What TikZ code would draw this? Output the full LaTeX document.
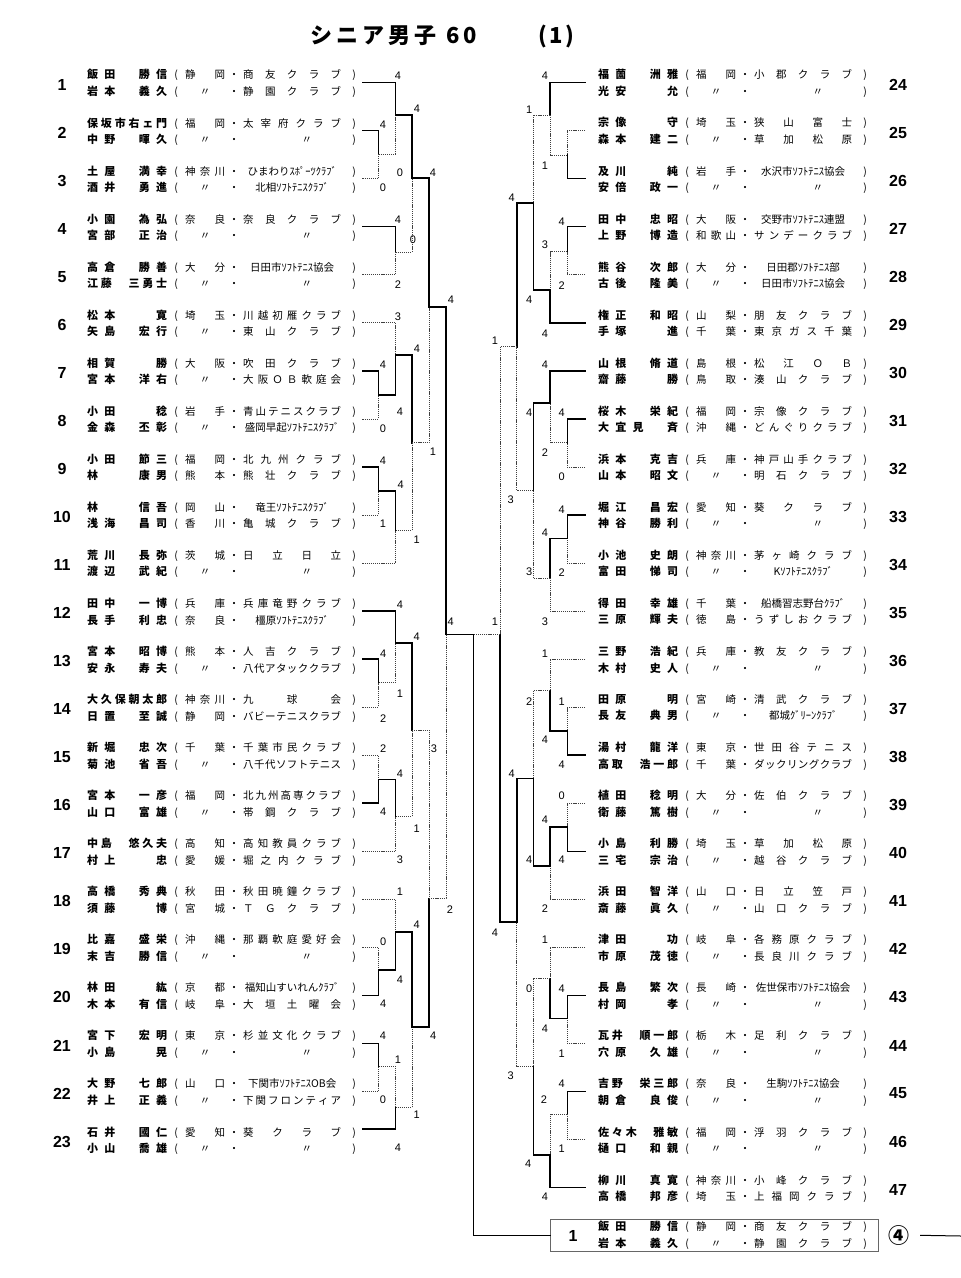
\documentclass[tikz,border=0pt]{standalone}
\usepackage{fontspec}
\newfontfamily\jp{Noto Sans CJK JP}
\newfontfamily\ar{Liberation Sans}
\usetikzlibrary{positioning}

\newcommand\spr[1]{\sprA#1\relax}
\def\sprA#1{\ifx#1\relax\else#1\expandafter\sprB\fi}
\def\sprB#1{\ifx#1\relax\else\hfil#1\expandafter\sprB\fi}
\newcommand\nmfld[1]{\hbox to 80pt{\bfseries\fontsize{11}{16.5}\selectfont\spr{#1}}}
\newcommand\ent[3]{\nmfld{#1}\hbox to 18pt{\hss(\hss}\hbox to 40pt{\spr{#2}}\hbox to 18pt{\hss・\hss}\hbox to 98pt{\spr{#3}}\hbox to 26pt{\hss)\hss}}
\newcommand\entn[3]{\nmfld{#1}\hbox to 18pt{\hss(\hss}\hbox to 40pt{\spr{#2}}\hbox to 18pt{\hss・\hss}\hbox to 98pt{\hss#3\hss}\hbox to 26pt{\hss)\hss}}
\newcommand\bmatch[6]{%
  \coordinate (#1) at (#2,#5);
  \if#6u
    \draw[win] (#3) -| (#1); \draw[lose] (#4) -| (#1);
  \else
    \draw[lose] (#3) -| (#1); \draw[win] (#4) -| (#1);
  \fi}

\begin{document}
\begin{tikzpicture}[x=1pt, y=-1pt,
  win/.style={line width=1.6pt, line cap=rect},
  lose/.style={draw=black!75, line width=0.6pt, dash pattern=on 1.2pt off 0.9pt},
  ent/.style={anchor=west, inner sep=0pt, align=left, font=\jp\fontsize{10.5}{16.5}\selectfont},
  num/.style={inner sep=0pt, font=\ar\bfseries\fontsize{16}{16}\selectfont},
  score/.style={inner sep=0pt, font=\ar\fontsize{11}{11}\selectfont},
  title/.style={anchor=west, inner sep=0pt, font=\jp\bfseries\fontsize{22}{26}\selectfont},
  champ/.style={draw=black!60, line width=0.8pt, minimum width=327.6pt, minimum height=32.5pt, inner sep=0pt}]
\fill[white] (0,0) rectangle (961,1278);
\useasboundingbox (0,0) rectangle (961,1278);

\node[title] (title) at (310,36) {\hbox to 126pt{\spr{シニア男子}}\hspace{10pt}6\hspace{4pt}0\hspace{62pt}(\kern2pt1\kern2pt)};

\node[ent] (e1) at (87,83.5) {\ent{飯田　勝信}{静岡}{商友クラブ}\\\ent{岩本　義久}{　〃　}{静園クラブ}};
\node[ent] (e2) at (87,131.55) {\ent{保坂市右ェ門}{福岡}{太宰府クラブ}\\\ent{中野　暉久}{　〃　}{　　〃　}};
\node[ent] (e3) at (87,179.6) {\entn{土屋　満幸}{神奈川}{ひまわりｽﾎﾟｰﾂｸﾗﾌﾞ}\\\entn{酒井　勇進}{　〃　}{北相ｿﾌﾄﾃﾆｽｸﾗﾌﾞ}};
\node[ent] (e4) at (87,227.65) {\ent{小園　為弘}{奈良}{奈良クラブ}\\\ent{宮部　正治}{　〃　}{　　〃　}};
\node[ent] (e5) at (87,275.7) {\entn{高倉　勝善}{大分}{日田市ｿﾌﾄﾃﾆｽ協会}\\\ent{江藤　三勇士}{　〃　}{　　〃　}};
\node[ent] (e6) at (87,323.75) {\ent{松本　　寛}{埼玉}{川越初雁クラブ}\\\ent{矢島　宏行}{　〃　}{東山クラブ}};
\node[ent] (e7) at (87,371.8) {\ent{相賀　　勝}{大阪}{吹田クラブ}\\\ent{宮本　洋右}{　〃　}{大阪ＯＢ軟庭会}};
\node[ent] (e8) at (87,419.85) {\ent{小田　　稔}{岩手}{青山テニスクラブ}\\\entn{金森　丕彰}{　〃　}{盛岡早起ｿﾌﾄﾃﾆｽｸﾗﾌﾞ}};
\node[ent] (e9) at (87,467.9) {\ent{小田　節三}{福岡}{北九州クラブ}\\\ent{林　　康男}{熊本}{熊壮クラブ}};
\node[ent] (e10) at (87,515.95) {\entn{林　　信吾}{岡山}{竜王ｿﾌﾄﾃﾆｽｸﾗﾌﾞ}\\\ent{浅海　昌司}{香川}{亀城クラブ}};
\node[ent] (e11) at (87,564.0) {\ent{荒川　長弥}{茨城}{日立日立}\\\ent{渡辺　武紀}{　〃　}{　　〃　}};
\node[ent] (e12) at (87,612.05) {\ent{田中　一博}{兵庫}{兵庫竜野クラブ}\\\entn{長手　利忠}{奈良}{橿原ｿﾌﾄﾃﾆｽｸﾗﾌﾞ}};
\node[ent] (e13) at (87,660.1) {\ent{宮本　昭博}{熊本}{人吉クラブ}\\\ent{安永　寿夫}{　〃　}{八代アタッククラブ}};
\node[ent] (e14) at (87,708.15) {\ent{大久保朝太郎}{神奈川}{九球会}\\\ent{日置　至誠}{静岡}{バビーテニスクラブ}};
\node[ent] (e15) at (87,756.2) {\ent{新堀　忠次}{千葉}{千葉市民クラブ}\\\ent{菊池　省吾}{　〃　}{八千代ソフトテニス}};
\node[ent] (e16) at (87,804.25) {\ent{宮本　一彦}{福岡}{北九州高専クラブ}\\\ent{山口　富雄}{　〃　}{帯鋼クラブ}};
\node[ent] (e17) at (87,852.3) {\ent{中島　悠久夫}{高知}{高知教員クラブ}\\\ent{村上　　忠}{愛媛}{堀之内クラブ}};
\node[ent] (e18) at (87,900.35) {\ent{高橋　秀典}{秋田}{秋田暁鐘クラブ}\\\ent{須藤　　博}{宮城}{ＴＧクラブ}};
\node[ent] (e19) at (87,948.4) {\ent{比嘉　盛栄}{沖縄}{那覇軟庭愛好会}\\\ent{末吉　勝信}{　〃　}{　　〃　}};
\node[ent] (e20) at (87,996.45) {\entn{林田　　紘}{京都}{福知山すいれんｸﾗﾌﾞ}\\\ent{木本　有信}{岐阜}{大垣土曜会}};
\node[ent] (e21) at (87,1044.5) {\ent{宮下　宏明}{東京}{杉並文化クラブ}\\\ent{小島　　晃}{　〃　}{　　〃　}};
\node[ent] (e22) at (87,1092.55) {\entn{大野　七郎}{山口}{下関市ｿﾌﾄﾃﾆｽOB会}\\\ent{井上　正義}{　〃　}{下関フロンティア}};
\node[ent] (e23) at (87,1140.6) {\ent{石井　國仁}{愛知}{葵クラブ}\\\ent{小山　喬雄}{　〃　}{　　〃　}};

\node[ent] (e24) at (598,83.5) {\ent{福薗　洲雅}{福岡}{小郡クラブ}\\\ent{光安　　允}{　〃　}{　　〃　}};
\node[ent] (e25) at (598,131.55) {\ent{宗像　　守}{埼玉}{狭山富士}\\\ent{森本　建二}{　〃　}{草加松原}};
\node[ent] (e26) at (598,179.6) {\entn{及川　　純}{岩手}{水沢市ｿﾌﾄﾃﾆｽ協会}\\\ent{安倍　政一}{　〃　}{　　〃　}};
\node[ent] (e27) at (598,227.65) {\entn{田中　忠昭}{大阪}{交野市ｿﾌﾄﾃﾆｽ連盟}\\\ent{上野　博造}{和歌山}{サンデークラブ}};
\node[ent] (e28) at (598,275.7) {\entn{熊谷　次郎}{大分}{日田郡ｿﾌﾄﾃﾆｽ部}\\\entn{古後　隆美}{　〃　}{日田市ｿﾌﾄﾃﾆｽ協会}};
\node[ent] (e29) at (598,323.75) {\ent{権正　和昭}{山梨}{朋友クラブ}\\\ent{手塚　　進}{千葉}{東京ガス千葉}};
\node[ent] (e30) at (598,371.8) {\ent{山根　脩道}{島根}{松江ＯＢ}\\\ent{齋藤　　勝}{鳥取}{湊山クラブ}};
\node[ent] (e31) at (598,419.85) {\ent{桜木　栄紀}{福岡}{宗像クラブ}\\\ent{大宜見　斉}{沖縄}{どんぐりクラブ}};
\node[ent] (e32) at (598,467.9) {\ent{浜本　克吉}{兵庫}{神戸山手クラブ}\\\ent{山本　昭文}{　〃　}{明石クラブ}};
\node[ent] (e33) at (598,515.95) {\ent{堀江　昌宏}{愛知}{葵クラブ}\\\ent{神谷　勝利}{　〃　}{　　〃　}};
\node[ent] (e34) at (598,564.0) {\ent{小池　史朗}{神奈川}{茅ヶ崎クラブ}\\\entn{富田　悌司}{　〃　}{Kｿﾌﾄﾃﾆｽｸﾗﾌﾞ}};
\node[ent] (e35) at (598,612.05) {\entn{得田　幸雄}{千葉}{船橋習志野台ｸﾗﾌﾞ}\\\ent{三原　輝夫}{徳島}{うずしおクラブ}};
\node[ent] (e36) at (598,660.1) {\ent{三野　浩紀}{兵庫}{教友クラブ}\\\ent{木村　史人}{　〃　}{　　〃　}};
\node[ent] (e37) at (598,708.15) {\ent{田原　　明}{宮崎}{清武クラブ}\\\entn{長友　典男}{　〃　}{都城ｸﾞﾘｰﾝｸﾗﾌﾞ}};
\node[ent] (e38) at (598,756.2) {\ent{湯村　龍洋}{東京}{世田谷テニス}\\\ent{高取　浩一郎}{千葉}{ダックリングクラブ}};
\node[ent] (e39) at (598,804.25) {\ent{植田　稔明}{大分}{佐伯クラブ}\\\ent{衛藤　篤樹}{　〃　}{　　〃　}};
\node[ent] (e40) at (598,852.3) {\ent{小島　利勝}{埼玉}{草加松原}\\\ent{三宅　宗治}{　〃　}{越谷クラブ}};
\node[ent] (e41) at (598,900.35) {\ent{浜田　智洋}{山口}{日立笠戸}\\\ent{斎藤　眞久}{　〃　}{山口クラブ}};
\node[ent] (e42) at (598,948.4) {\ent{津田　　功}{岐阜}{各務原クラブ}\\\ent{市原　茂徳}{　〃　}{長良川クラブ}};
\node[ent] (e43) at (598,996.45) {\entn{長島　繁次}{長崎}{佐世保市ｿﾌﾄﾃﾆｽ協会}\\\ent{村岡　　孝}{　〃　}{　　〃　}};
\node[ent] (e44) at (598,1044.5) {\ent{瓦井　順一郎}{栃木}{足利クラブ}\\\ent{穴原　久雄}{　〃　}{　　〃　}};
\node[ent] (e45) at (598,1092.55) {\entn{吉野　栄三郎}{奈良}{生駒ｿﾌﾄﾃﾆｽ協会}\\\ent{朝倉　良俊}{　〃　}{　　〃　}};
\node[ent] (e46) at (598,1140.6) {\ent{佐々木　雅敏}{福岡}{浮羽クラブ}\\\ent{樋口　和親}{　〃　}{　　〃　}};
\node[ent] (e47) at (598,1188.65) {\ent{柳川　真寛}{神奈川}{小峰クラブ}\\\ent{高橋　邦彦}{埼玉}{上福岡クラブ}};

\foreach \k [evaluate=\k as \yk using 83.5+48.05*(\k-1)+1] in {1,...,23}
  \node[num] (n\k) at (62,\yk) {\k};
\foreach \k [evaluate=\k as \yk using 83.5+48.05*(\k-24)+1] in {24,...,47}
  \node[num] (n\k) at (898,\yk) {\k};

\foreach \k in {1,...,22}
  \coordinate (a\k) at ([shift={(-5pt,1pt)}]e\k.east);
\coordinate (a23) at ([shift={(-5pt,11.5pt)}]e23.east);
\foreach \k in {24,...,47}
  \coordinate (a\k) at ([shift={(-13pt,1pt)}]e\k.west);

\bmatch{mA}{378.5}{a2}{a3}{154}{u}
\bmatch{mB}{395.5}{a1}{mA}{115}{u}
\bmatch{mC}{395.5}{a4}{a5}{252}{u}
\bmatch{mD}{412}{mB}{mC}{178}{u}
\bmatch{mE}{378.5}{a7}{a8}{395}{u}
\bmatch{mF}{395.5}{a6}{mE}{355}{d}
\bmatch{mG}{378.5}{a9}{a10}{490.7}{u}
\bmatch{mH}{395.5}{mG}{a11}{530.7}{u}
\bmatch{mI}{412}{mF}{mH}{442.7}{u}
\bmatch{mJ}{429}{mD}{mI}{306.7}{u}
\bmatch{mK}{378.5}{a13}{a14}{682.7}{u}
\bmatch{mL}{395.5}{a12}{mK}{642.7}{u}
\bmatch{mM}{378.5}{a15}{a16}{779.3}{d}
\bmatch{mN}{395.5}{mM}{a17}{816.7}{u}
\bmatch{mO}{412}{mL}{mN}{730}{u}
\bmatch{mP}{378.5}{a19}{a20}{970}{d}
\bmatch{mQ}{395.5}{a18}{mP}{932}{d}
\bmatch{mR}{378.5}{a21}{a22}{1066}{u}
\bmatch{mS}{395.5}{mR}{a23}{1107.7}{d}
\bmatch{mT}{412}{mQ}{mS}{1026.7}{u}
\bmatch{mU}{429}{mO}{mT}{898.3}{d}
\bmatch{mV}{446}{mJ}{mU}{634.3}{u}

\bmatch{nA}{567.3}{a25}{a26}{155}{d}
\bmatch{nB}{550}{a24}{nA}{115}{u}
\bmatch{nC}{567.3}{a27}{a28}{251.7}{u}
\bmatch{nD}{550}{nC}{a29}{290}{d}
\bmatch{nE}{533.3}{nB}{nD}{202.7}{d}
\bmatch{nF}{567.3}{a31}{a32}{442.7}{u}
\bmatch{nG}{550}{a30}{nF}{402.7}{u}
\bmatch{nH}{567.3}{a33}{a34}{538.3}{u}
\bmatch{nI}{550}{nH}{a35}{578.3}{u}
\bmatch{nJ}{533.3}{nG}{nI}{490}{u}
\bmatch{nK}{516.7}{nE}{nJ}{346.7}{u}
\bmatch{nL}{567.3}{a37}{a38}{730.7}{d}
\bmatch{nM}{550}{a36}{nL}{690.7}{d}
\bmatch{nN}{567.3}{a39}{a40}{826.7}{d}
\bmatch{nO}{550}{nN}{a41}{866}{u}
\bmatch{nP}{533.3}{nM}{nO}{778.3}{d}
\bmatch{nQ}{567.3}{a43}{a44}{1018.3}{u}
\bmatch{nR}{550}{a42}{nQ}{978.3}{d}
\bmatch{nS}{567.3}{a45}{a46}{1114}{u}
\bmatch{nT}{550}{nS}{a47}{1155}{d}
\bmatch{nU}{533.3}{nR}{nT}{1066.7}{d}
\bmatch{nV}{516.7}{nP}{nU}{921.7}{u}
\bmatch{nW}{500}{nK}{nV}{634.3}{d}

\node[champ] (champ) at (714.5,1235.3) {};
\node[num] (cn) at (573,1236) {1};
\node[ent] (ce) at (598,1235.3) {\ent{飯田　勝信}{静岡}{商友クラブ}\\\ent{岩本　義久}{　〃　}{静園クラブ}};
\node[inner sep=0pt, font=\jp\bfseries\fontsize{21}{21}\selectfont, right=10pt of champ] (rank) {④};
\coordinate (edge) at (961,1236);

\coordinate (fin) at (473.3,634.3);
\draw[win] (mV) -- (fin);
\draw[lose] (nW) -- (fin);
\draw[win] (fin) |- (champ.west);
\draw[line width=1pt] ([xshift=10pt]rank.east) -- (edge);

\foreach \x/\y/\v [count=\i] in {
  383/125/4, 383/188/0, 398/76/4, 400/173/0, 398/220/4, 398/285/2,
  417/109/4, 413/240/0, 383/365/4, 383/429/0, 398/317/3, 400/412/4,
  383/461/4, 383/524/1, 400.7/485/4, 417/349/4, 416.7/540/1,
  433/173/4, 433/452/1, 383.3/653.3/4, 383.3/718.3/2, 400/605/4, 400/693.3/1,
  383.3/748.3/2, 383.3/811.7/4, 400/773.3/4, 400/860/3,
  416.7/636.7/4, 416.7/828.3/1, 383.3/941.7/0, 383.3/1004/4,
  400/891.7/1, 400/980/4, 383/1036/4, 383/1100/0, 398/1060/1, 398/1148/4,
  416.7/925/4, 416.7/1115/1, 434/748.3/3, 433.3/1036/4, 451/300/4, 450/910/2,
  450.7/621.7/4, 495/621.7/1,
  545/76/4, 545/166/1, 561.7/221.7/4, 561.7/286/2, 545/245/3, 545/333.3/4,
  529.3/109.3/1, 529.3/300/4, 561.7/412.7/4, 561.7/476.7/0, 545/365/4, 545/452.7/2,
  561.7/509.3/4, 561.7/572.7/2, 545/532.7/4, 545/621.7/3, 529.3/412.7/4, 529.3/571.7/3,
  511.7/197.3/4, 510.7/500/3, 561.7/701.7/1, 561.7/765/4, 545/653.3/1, 545/740/4,
  561.7/796/0, 561.7/860/4, 545/820/4, 545/908.3/2, 529.3/701.7/2, 529.3/860/4,
  561.7/988.3/4, 561.7/1053.3/1, 545/940/1, 545/1028.3/4, 561.7/1084/4, 561.7/1148.3/1,
  544/1100/2, 545/1196.7/4, 529.3/988.3/0, 528.3/1163.3/4, 511.7/773.3/4, 510.7/1076/3,
  495/340.7/1, 495/932.7/4}
  \node[score] (s\i) at (\x,\y) {\v};
\end{tikzpicture}
\end{document}
